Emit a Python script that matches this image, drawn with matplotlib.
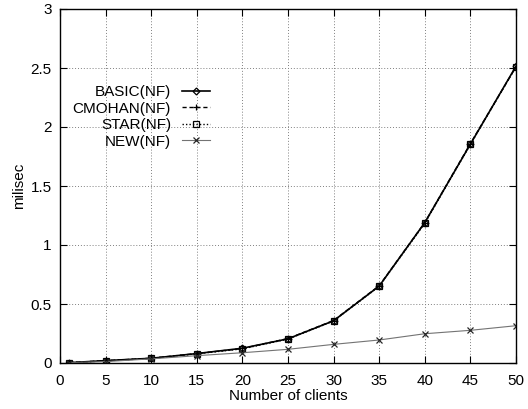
import matplotlib
matplotlib.use("Agg")
import matplotlib.pyplot as plt

plt.rcParams['font.family'] = ['Liberation Sans', 'DejaVu Sans']

clients = [1, 5, 10, 15, 20, 25, 30, 35, 40, 45, 50]
basic = [0.003, 0.02, 0.04, 0.08, 0.125, 0.205, 0.358, 0.652, 1.19, 1.855, 2.515]
cmohan = [0.003, 0.02, 0.04, 0.08, 0.123, 0.207, 0.36, 0.655, 1.19, 1.86, 2.51]
star = [0.003, 0.018, 0.04, 0.078, 0.12, 0.203, 0.356, 0.65, 1.185, 1.853, 2.512]
new = [0.003, 0.012, 0.035, 0.062, 0.087, 0.116, 0.158, 0.195, 0.248, 0.277, 0.316]

labels = ['BASIC(NF)', 'CMOHAN(NF)', 'STAR(NF)', 'NEW(NF)']
xticks = [0, 5, 10, 15, 20, 25, 30, 35, 40, 45, 50]
yticks = [0, 0.5, 1, 1.5, 2, 2.5, 3]
ytick_labels = ['0', '0.5', '1', '1.5', '2', '2.5', '3']

FS = 11

fig = plt.figure(figsize=(5.28, 4.09), dpi=100)
ax = fig.add_axes([60/528, 1-363/409, (516-60)/528, (363-9)/409])

ax.plot(clients, basic, color='black', lw=1.2, ls='-', marker='D', ms=3.5,
        mfc='none', mec='black', mew=0.9, label=labels[0])
ax.plot(clients, cmohan, color='black', lw=1.0, ls=(0, (3, 2)), marker='+', ms=5,
        mew=0.9, label=labels[1])
ax.plot(clients, star, color='black', lw=1.0, ls=(0, (1, 1.5)), marker='s', ms=4.5,
        mfc='none', mec='black', mew=0.9, label=labels[2])
ax.plot(clients, new, color='0.45', lw=0.8, ls='-', marker='x', ms=4.5,
        mec='0.15', mew=0.9, label=labels[3])

ax.set_xlim(0, 50)
ax.set_ylim(0, 3)
ax.set_xticks(xticks)
ax.set_yticks(yticks)
ax.set_yticklabels(ytick_labels)
ax.tick_params(direction='in', top=True, right=True, length=5, width=0.8,
               labelsize=FS, colors='black')
ax.tick_params(axis='x', pad=8)
ax.tick_params(axis='y', pad=6)
ax.grid(True, color='0.5', ls=(0, (1, 2)), lw=0.7)
for s in ax.spines.values():
    s.set_linewidth(1.0)

ax.set_xlabel('Number of clients', fontsize=FS, labelpad=1)
ax.set_ylabel('milisec', fontsize=FS, labelpad=3)

leg = ax.legend(loc='upper right', bbox_to_anchor=(210/528, 1-85/409),
                bbox_transform=fig.transFigure, frameon=False, markerfirst=False,
                fontsize=FS, handlelength=1.85, handletextpad=0.7,
                labelspacing=0.17, borderpad=0, borderaxespad=0)

fig.savefig('out.png', dpi=100)
